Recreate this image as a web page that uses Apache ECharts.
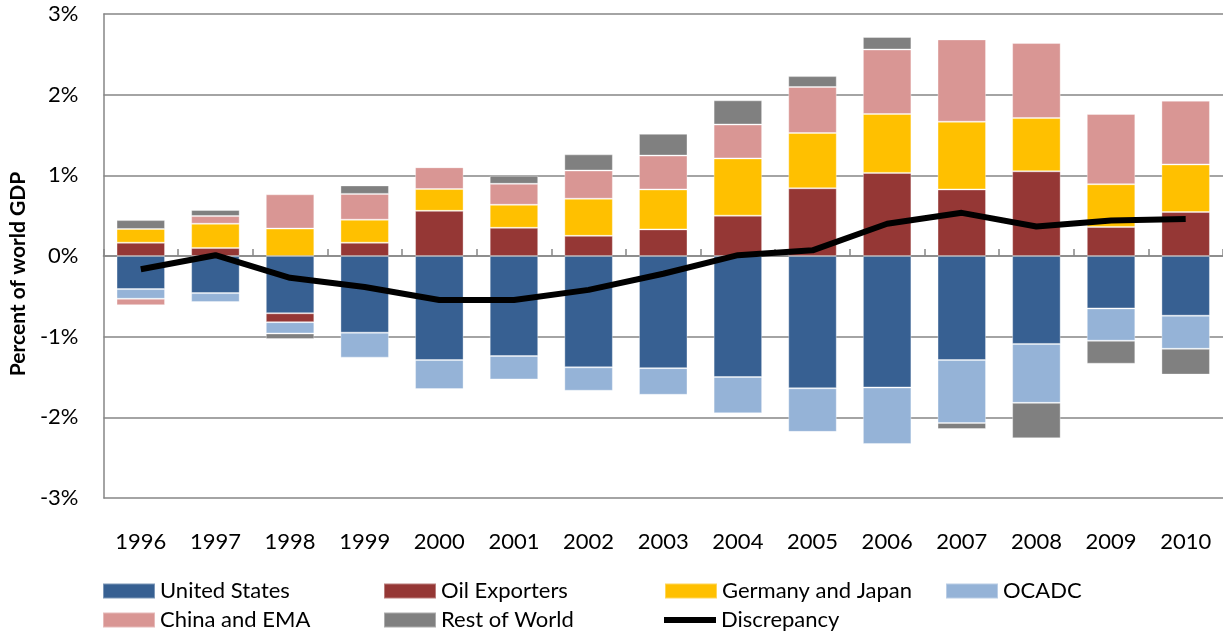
<!DOCTYPE html>
<html>
<head>
<meta charset="utf-8">
<script src="https://cdn.jsdelivr.net/npm/echarts@6/dist/echarts.min.js"></script>
<style>
  html, body { margin: 0; padding: 0; background: #fff; }
  #chart { width: 1223px; height: 635px; }
</style>
</head>
<body>
<div id="chart"></div>
<script>
var years = ['1996', '1997', '1998', '1999', '2000', '2001', '2002', '2003', '2004', '2005', '2006', '2007', '2008', '2009', '2010']

// percent of world GDP
var unitedStates = [-0.41, -0.46, -0.71, -0.95, -1.29, -1.24, -1.38, -1.39, -1.50, -1.64, -1.63, -1.29, -1.09, -0.65, -0.74]
var oilExporters = [0.165, 0.10, -0.11, 0.165, 0.56, 0.35, 0.25, 0.33, 0.50, 0.84, 1.03, 0.825, 1.05, 0.36, 0.545]
var germanyJapan = [0.17, 0.30, 0.34, 0.285, 0.27, 0.285, 0.46, 0.495, 0.71, 0.685, 0.73, 0.84, 0.66, 0.53, 0.59]
var ocadc = [-0.12, -0.11, -0.14, -0.31, -0.36, -0.29, -0.29, -0.33, -0.45, -0.54, -0.70, -0.78, -0.73, -0.40, -0.41]
var chinaEma = [-0.08, 0.095, 0.425, 0.32, 0.27, 0.26, 0.35, 0.42, 0.42, 0.57, 0.80, 1.02, 0.93, 0.87, 0.79]
var restOfWorld = [0.11, 0.075, -0.07, 0.105, 0, 0.10, 0.20, 0.27, 0.30, 0.135, 0.155, -0.075, -0.44, -0.285, -0.32]
var discrepancy = [-0.165, 0.01, -0.27, -0.385, -0.545, -0.545, -0.42, -0.22, 0.01, 0.07, 0.40, 0.535, 0.365, 0.44, 0.46]

var myChart = echarts.init(document.getElementById('chart'))
var font = 'Lato'

function barSeries(name, data, color) {
  return {
    name: name,
    type: 'bar',
    stack: 'total',
    barWidth: '65%',
    data: data,
    itemStyle: { color: color, borderColor: 'rgba(255,255,255,0.35)', borderWidth: 1 }
  }
}

var option = {
  animation: false,
  textStyle: { fontFamily: font },
  grid: {
    left: 102,
    right: 0,
    top: 14,
    bottom: 137
  },
  legend: {
    left: 97,
    top: 575,
    width: 1125,
    icon: 'rect',
    itemWidth: 52,
    itemHeight: 15,
    itemGap: 7,
    textStyle: {
      fontFamily: font,
      fontSize: 22,
      color: '#000',
      width: 216,
      lineHeight: 22
    },
    data: [
      'United States', 'Oil Exporters', 'Germany and Japan', 'OCADC', 'China and EMA', 'Rest of World',
      { name: 'Discrepancy', icon: 'path://M0,0 L52,0 L52,6 L0,6 Z' }
    ]
  },
  xAxis: [
    {
      type: 'category',
      data: years,
      position: 'bottom',
      axisLine: { show: false, onZero: false },
      axisTick: { show: false },
      axisLabel: { margin: 33, fontSize: 22, color: '#000', fontFamily: font }
    },
    {
      type: 'category',
      data: years,
      position: 'top',
      axisLine: { onZero: true, lineStyle: { color: '#868686', width: 1.5 } },
      axisTick: { show: true, length: 7, lineStyle: { color: '#868686', width: 1.5 } },
      axisLabel: { show: false }
    }
  ],
  yAxis: {
    type: 'value',
    min: -3,
    max: 3,
    interval: 1,
    name: 'Percent of world GDP',
    nameLocation: 'middle',
    nameGap: 70,
    nameTextStyle: { fontSize: 21, fontWeight: 'bold', color: '#000', fontFamily: font, padding: [0, 36, 0, 0] },
    axisLine: { show: true, lineStyle: { color: '#868686', width: 1.5 } },
    axisTick: { show: false },
    axisLabel: { formatter: '{value}%', margin: 25, fontSize: 22, color: '#000', fontFamily: font },
    splitLine: { lineStyle: { color: '#868686', width: 1.5 } }
  },
  series: [
    barSeries('United States', unitedStates, '#376092'),
    barSeries('Oil Exporters', oilExporters, '#953735'),
    barSeries('Germany and Japan', germanyJapan, '#FFC000'),
    barSeries('OCADC', ocadc, '#95B3D7'),
    barSeries('China and EMA', chinaEma, '#D99694'),
    barSeries('Rest of World', restOfWorld, '#808080'),
    {
      name: 'Discrepancy',
      type: 'line',
      data: discrepancy,
      symbol: 'none',
      z: 5,
      itemStyle: { color: '#000' },
      lineStyle: { color: '#000', width: 6 }
    }
  ]
}

myChart.setOption(option)
</script>
</body>
</html>
